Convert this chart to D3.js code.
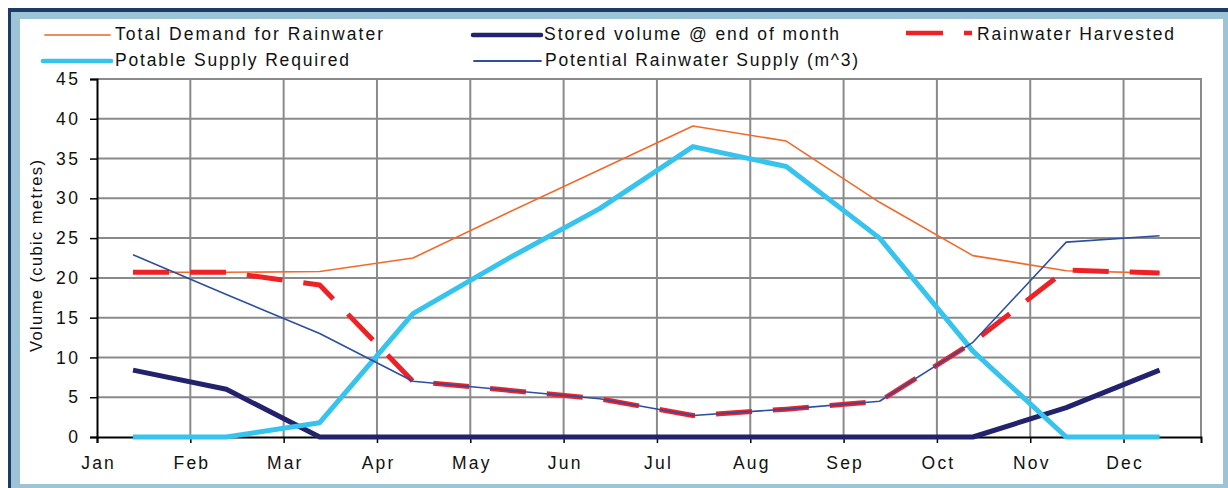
<!DOCTYPE html>
<html>
<head>
<meta charset="utf-8">
<script src="https://cdn.jsdelivr.net/npm/d3@7"></script>
<style>
  html, body { margin: 0; padding: 0; background: #ffffff; }
  svg { display: block; }
  text { font-family: "Liberation Sans", Arial, sans-serif; fill: #111; }
</style>
</head>
<body>
<svg id="chart" width="1228" height="488"></svg>
<script>
// ---- data ----
const months = ["Jan","Feb","Mar","Apr","May","Jun","Jul","Aug","Sep","Oct","Nov","Dec"];
const totalDemand   = [20.7, 20.7, 20.8, 22.5, 28.1, 33.6, 39.1, 37.2, 29.5, 22.8, 20.9, 20.6];
const storedVolume  = [8.4, 6.0, 0, 0, 0, 0, 0, 0, 0, 0, 3.7, 8.4];
const harvested     = [20.7, 20.7, 19.1, 7.0, 5.9, 4.8, 2.7, 3.5, 4.5, 11.9, 21.0, 20.6];
const potable       = [0, 0, 1.8, 15.5, 22.3, 28.7, 36.5, 34.0, 25.0, 10.8, 0, 0];
const potential     = [22.9, 17.9, 13.0, 7.0, 5.9, 4.8, 2.7, 3.5, 4.5, 11.9, 24.5, 25.3];
const yTicks = [0, 5, 10, 15, 20, 25, 30, 35, 40, 45];
const yTitle = "Volume (cubic metres)";

// ---- layout ----
const svg = d3.select("#chart");
const W = 1228, H = 488;
const plot = { left: 97, right: 1201, top: 79, bottom: 437 };

// frame
svg.append("rect").attr("x", 8).attr("y", 8).attr("width", W - 8).attr("height", H - 8).attr("fill", "#1d3b66");
svg.append("rect").attr("x", 11).attr("y", 12).attr("width", W - 11).attr("height", H - 12).attr("fill", "#9dc3d7");
svg.append("rect").attr("x", 20).attr("y", 19).attr("width", 1203).attr("height", 465).attr("fill", "#ffffff");

const x = d3.scaleLinear().domain([0, 11.83]).range([plot.left, plot.right]);
const y = d3.scaleLinear().domain([0, 45]).range([plot.bottom, plot.top]);
const pointOffset = 0.386;
const px = (d, i) => x(i + pointOffset);

// gridlines
const grid = svg.append("g").attr("stroke", "#8a8a8a").attr("stroke-width", 2);
yTicks.filter(t => t > 0).forEach(t => {
  grid.append("line").attr("x1", plot.left).attr("x2", plot.right).attr("y1", y(t)).attr("y2", y(t));
});
months.forEach((m, i) => {
  if (i === 0) return;
  grid.append("line").attr("x1", x(i)).attr("x2", x(i)).attr("y1", plot.top).attr("y2", plot.bottom);
});
grid.append("line").attr("x1", plot.right).attr("x2", plot.right).attr("y1", plot.top - 1).attr("y2", plot.bottom);

// axes
const yAxis = d3.axisLeft(y).tickValues(yTicks).tickSize(7).tickPadding(12);
const gy = svg.append("g").attr("transform", `translate(${plot.left},0)`).call(yAxis);
gy.select(".domain").attr("stroke", "#000").attr("stroke-width", 2);
gy.selectAll(".tick line").attr("stroke", "#000").attr("stroke-width", 1.5);
gy.selectAll(".tick text").attr("font-size", 17.5).attr("letter-spacing", "2.5px").attr("dx", "2.5px")
  .attr("font-family", "Liberation Sans, Arial, sans-serif").attr("fill", "#111");

const xAxis = d3.axisBottom(x).tickValues(d3.range(0, 12)).tickFormat(i => months[i]).tickSize(6).tickPadding(14);
const gx = svg.append("g").attr("transform", `translate(0,${plot.bottom})`).call(xAxis);
gx.select(".domain").attr("stroke", "#000").attr("stroke-width", 2);
gx.selectAll(".tick line").attr("stroke", "#000").attr("stroke-width", 1.5);
gx.selectAll(".tick text").attr("font-size", 17.5).attr("letter-spacing", "2.2px").attr("dx", "1.1px")
  .attr("font-family", "Liberation Sans, Arial, sans-serif").attr("fill", "#111");

// y title
svg.append("text")
  .attr("transform", "translate(42,256) rotate(-90)")
  .attr("text-anchor", "middle")
  .attr("font-size", 16.5)
  .attr("textLength", 192).attr("lengthAdjust", "spacing")
  .text(yTitle);

// series
const line = d3.line().x(px).y(d => y(d));
const series = [
  { name: "Total Demand for Rainwater", data: totalDemand, color: "#f26a2a", width: 1.6, dash: null },
  { name: "Stored volume @ end of month", data: storedVolume, color: "#23236d", width: 5, dash: null },
  { name: "Rainwater Harvested", data: harvested, color: "#ee2126", width: 5, dash: "36,21" },
  { name: "Potable Supply Required", data: potable, color: "#36c3ee", width: 5, dash: null },
  { name: "Potential Rainwater Supply (m^3)", data: potential, color: "#2d4ea1", width: 1.6, dash: null }
];
series.forEach(s => {
  svg.append("path").datum(s.data)
    .attr("d", line)
    .attr("fill", "none")
    .attr("stroke", s.color)
    .attr("stroke-width", s.width)
    .attr("stroke-linejoin", "round")
    .attr("stroke-dasharray", s.dash);
});

// legend
const legendItems = [
  { s: series[0], lx1: 45, lx2: 110, ly: 35, tx: 115, ty: 40, tl: 268, lcolor: "#f08a5a" },
  { s: series[1], lx1: 473, lx2: 541, ly: 35, tx: 544, ty: 40, tl: 295 },
  { s: series[2], lx1: 906, lx2: 972, ly: 33, tx: 977, ty: 40, tl: 197 },
  { s: series[3], lx1: 43, lx2: 111, ly: 61, tx: 115, ty: 66, tl: 234 },
  { s: series[4], lx1: 474, lx2: 541, ly: 61, tx: 545, ty: 66, tl: 313 }
];
const lg = svg.append("g");
legendItems.forEach(it => {
  lg.append("line")
    .attr("x1", it.lx1).attr("x2", it.lx2).attr("y1", it.ly).attr("y2", it.ly)
    .attr("stroke", it.lcolor || it.s.color)
    .attr("stroke-width", it.s.width === 5 ? 4.5 : 1.8)
    .attr("stroke-linecap", it.s.dash ? "butt" : "round")
    .attr("stroke-dasharray", it.s.dash ? "37,21" : null);
  lg.append("text")
    .attr("x", it.tx).attr("y", it.ty)
    .attr("font-size", 17.5)
    .attr("textLength", it.tl).attr("lengthAdjust", "spacing")
    .text(it.s.name);
});
</script>
</body>
</html>
